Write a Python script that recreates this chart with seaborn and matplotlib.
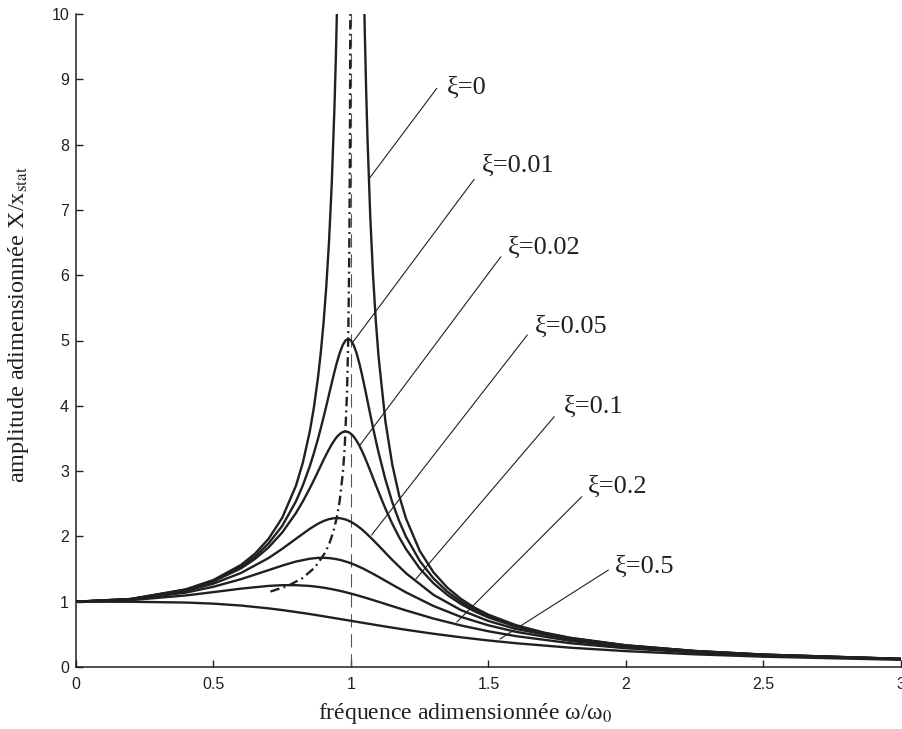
import numpy as np
import matplotlib.pyplot as plt
import seaborn as sns
import pandas as pd

sns.set_style('ticks')
plt.rcParams['font.family'] = ['Liberation Serif', 'DejaVu Serif']
plt.rcParams['mathtext.fontset'] = 'stix'

nan = np.nan

# frequency grids (omega / omega_0): fine one for the sharp curves, coarse one for the rest
freq_fine = [0, 0.2, 0.4, 0.5, 0.6, 0.65, 0.7, 0.75, 0.8, 0.825, 0.85, 0.865, 0.88, 0.89,
             0.9, 0.91, 0.92, 0.93, 0.94, 0.945, 0.95, 0.96, 0.97, 0.98, 0.99, 1.0, 1.01,
             1.02, 1.03, 1.04, 1.045, 1.05, 1.055, 1.06, 1.07, 1.08, 1.09, 1.1, 1.125, 1.15,
             1.175, 1.2, 1.25, 1.3, 1.35, 1.4, 1.45, 1.5, 1.6, 1.7, 1.8, 2.0, 2.25, 2.5, 3.0]
freq = [0, 0.2, 0.4, 0.5, 0.6, 0.7, 0.75, 0.8, 0.85, 0.88, 0.9, 0.92, 0.94, 0.95, 0.96,
        0.97, 0.98, 0.99, 1.0, 1.01, 1.02, 1.03, 1.04, 1.05, 1.06, 1.08, 1.1, 1.15, 1.2,
        1.3, 1.4, 1.5, 1.6, 1.8, 2.0, 2.25, 2.5, 3.0]

# amplitudes (on freq_fine)
amp_xi0 = [1.0, 1.042, 1.19, 1.333, 1.563, 1.732, 1.961, 2.286, 2.778, 3.131,
           3.604, 3.972, 4.433, 4.81, 5.263, 5.817, 6.51, 7.402, 8.591, 9.348,
           10.256, 12.755, nan, nan, nan, nan, nan, nan, nan, 12.255,
           10.867, 9.756, 8.848, 8.091, 6.901, 6.01, 5.316, 4.762, 3.765, 3.101,
           2.627, 2.273, 1.778, 1.449, 1.216, 1.042, 0.907, 0.8, 0.641, 0.529,
           0.446, 0.333, 0.246, 0.19, 0.125]
amp_xi1 = [1.0, 1.041, 1.185, 1.322, 1.536, 1.689, 1.891, 2.162, 2.538, 2.782,
           3.073, 3.274, 3.495, 3.654, 3.821, 3.994, 4.172, 4.35, 4.523, 4.605,
           4.683, 4.822, 4.931, 5.001, 5.025, 5.0, 4.926, 4.809, 4.655, 4.476,
           4.379, 4.279, 4.178, 4.075, 3.869, 3.668, 3.473, 3.288, 2.873, 2.525,
           2.236, 1.995, 1.625, 1.356, 1.155, 1.0, 0.877, 0.778, 0.628, 0.521,
           0.441, 0.33, 0.245, 0.19, 0.125]
amp_xi2 = [1.0, 1.04, 1.18, 1.311, 1.511, 1.652, 1.83, 2.061, 2.359, 2.537,
           2.735, 2.862, 2.993, 3.081, 3.169, 3.254, 3.334, 3.409, 3.475, 3.504,
           3.53, 3.571, 3.598, 3.607, 3.598, 3.571, 3.527, 3.467, 3.393, 3.307,
           3.26, 3.212, 3.162, 3.11, 3.005, 2.897, 2.789, 2.683, 2.427, 2.194,
           1.988, 1.806, 1.509, 1.282, 1.105, 0.964, 0.851, 0.758, 0.616, 0.513,
           0.436, 0.328, 0.243, 0.189, 0.124]
# amplitudes on the coarse grid
amp_xi3 = [1.0, 1.037, 1.164, 1.277, 1.44, 1.668, 1.81, 1.964, 2.116, 2.194, 2.235, 2.265,
           2.279, 2.281, 2.278, 2.27, 2.259, 2.242, 2.222, 2.198, 2.17, 2.139, 2.105, 2.068,
           2.029, 1.947, 1.86, 1.64, 1.436, 1.105, 0.871, 0.704, 0.582, 0.42, 0.319, 0.239, 0.186, 0.123]
amp_xi4 = [1.0, 1.033, 1.14, 1.229, 1.345, 1.483, 1.553, 1.615, 1.658, 1.671, 1.672, 1.668,
           1.657, 1.649, 1.64, 1.629, 1.616, 1.603, 1.587, 1.571, 1.553, 1.534, 1.515, 1.494,
           1.472, 1.428, 1.381, 1.261, 1.143, 0.934, 0.767, 0.638, 0.538, 0.398, 0.307, 0.232, 0.182, 0.122]
amp_xi5 = [1.0, 1.024, 1.096, 1.147, 1.2, 1.242, 1.253, 1.253, 1.241, 1.227, 1.215, 1.2,
           1.184, 1.175, 1.166, 1.156, 1.145, 1.135, 1.124, 1.112, 1.101, 1.089, 1.076, 1.064,
           1.051, 1.025, 0.999, 0.932, 0.866, 0.742, 0.636, 0.547, 0.473, 0.363, 0.287, 0.221, 0.175, 0.119]
amp_xi6 = [1.0, 0.999, 0.987, 0.97, 0.941, 0.898, 0.872, 0.842, 0.811, 0.791, 0.777, 0.763,
           0.749, 0.742, 0.735, 0.728, 0.721, 0.714, 0.707, 0.7, 0.693, 0.686, 0.679, 0.672,
           0.665, 0.651, 0.637, 0.603, 0.57, 0.509, 0.455, 0.406, 0.364, 0.295, 0.243, 0.194, 0.158, 0.11]

# locus of the resonance peaks (dash-dot)
peak_freq = [0.7071, 0.7714, 0.8246, 0.8689, 0.9055, 0.9213, 0.9354, 0.948, 0.9592, 0.9707,
             0.9772, 0.9855, 0.9899, 0.9936, 0.9958, 0.9975]
peak_amp = [1.155, 1.244, 1.364, 1.525, 1.747, 1.891, 2.066, 2.281, 2.552, 2.985,
            3.372, 4.197, 5.025, 6.27, 7.709, 10.013]

# labels: text position, start and end of the leader line
labels = ['ξ=0', 'ξ=0.01', 'ξ=0.02', 'ξ=0.05', 'ξ=0.1', 'ξ=0.2', 'ξ=0.5']
label_x = [1.349, 1.476, 1.571, 1.669, 1.775, 1.862, 1.960]
label_y = [8.877, 7.672, 6.417, 5.207, 3.982, 2.757, 1.531]
lead_x0 = [1.312, 1.448, 1.545, 1.641, 1.739, 1.839, 1.936]
lead_y0 = [8.862, 7.469, 6.283, 5.084, 3.833, 2.608, 1.485]
lead_x1 = [1.068, 1.008, 1.033, 1.075, 1.236, 1.385, 1.542]
lead_y1 = [7.490, 4.982, 3.400, 2.021, 1.348, 0.689, 0.429]

fine_curves = [amp_xi0, amp_xi1, amp_xi2]
coarse_curves = [amp_xi3, amp_xi4, amp_xi5, amp_xi6]
parts = [pd.DataFrame({'freq': freq_fine, 'amp': a, 'curve': i})
         for i, a in enumerate(fine_curves)]
parts += [pd.DataFrame({'freq': freq, 'amp': a, 'curve': i + 3})
          for i, a in enumerate(coarse_curves)]
df = pd.concat(parts, ignore_index=True)
df_peak = pd.DataFrame({'freq': peak_freq, 'amp': peak_amp})

ink = '#231f20'

fig = plt.figure(figsize=(9.03, 7.29), dpi=100)
ax = fig.add_axes([76 / 903, 62 / 729, 825 / 903, 653 / 729])

# resonance curves
sns.lineplot(data=df, x='freq', y='amp', units='curve', estimator=None,
             color=ink, lw=1.7, ax=ax)
# peak locus
sns.lineplot(data=df_peak, x='freq', y='amp', estimator=None, color=ink, lw=1.7,
             linestyle=(0, (4, 1.8, 0.8, 1.8)), ax=ax)
ax.axvline(1, color='#555555', lw=0.8, linestyle=(0, (12, 6)), zorder=1)

# labels with their leader lines
for i in range(len(labels)):
    ax.plot([lead_x0[i], lead_x1[i]], [lead_y0[i], lead_y1[i]], color=ink, lw=0.8)
    ax.text(label_x[i], label_y[i], labels[i], fontsize=19, color=ink,
            ha='left', va='center')

ax.set_xlim(0, 3)
ax.set_ylim(0, 10)
ax.set_xticks([0, 0.5, 1, 1.5, 2, 2.5, 3])
ax.set_xticklabels(['0', '0.5', '1', '1.5', '2', '2.5', '3'])
ax.set_yticks(range(0, 11))
ax.tick_params(direction='in', length=5, width=1, colors=ink, labelsize=11.5)
ax.tick_params(axis='x', pad=7)
ax.tick_params(axis='y', pad=5)
plt.setp(ax.get_xticklabels() + ax.get_yticklabels(), family='Liberation Sans')
sns.despine(ax=ax)
for s in ['left', 'bottom']:
    ax.spines[s].set_linewidth(1.1)
    ax.spines[s].set_color(ink)

ax.set_xlabel('fréquence adimensionnée ω/ω$_0$', fontsize=17, color=ink, va='center')
ax.set_ylabel('amplitude adimensionnée X/x$_{\\mathrm{stat}}$', fontsize=17.5, color=ink, va='center')
ax.xaxis.set_label_coords(0.4715, -0.071)
ax.yaxis.set_label_coords(-0.07, 0.524)

plt.savefig('out.png', dpi=100)
